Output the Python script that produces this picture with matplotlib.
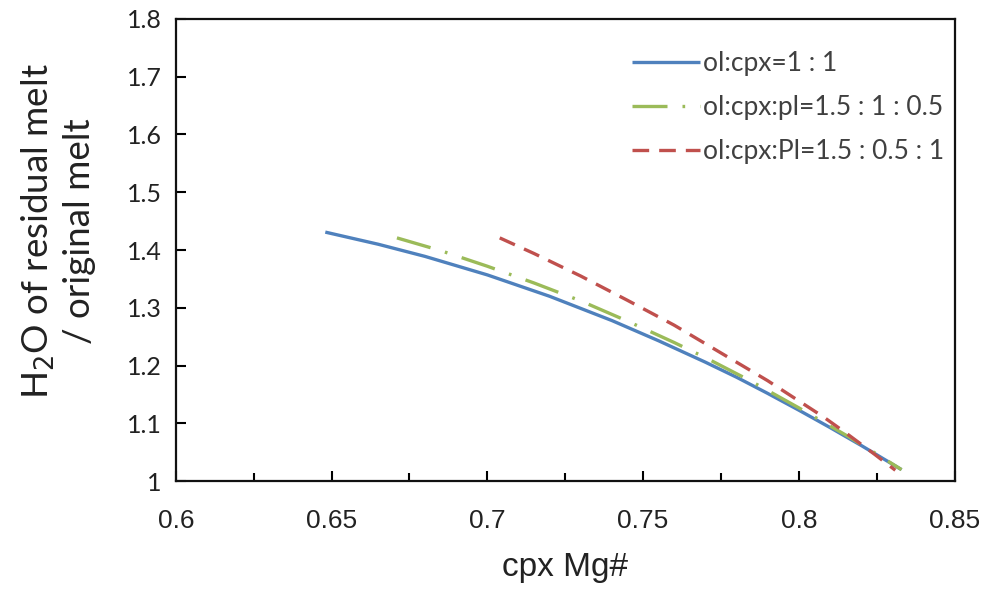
import matplotlib
matplotlib.use("Agg")
import matplotlib.pyplot as plt
from matplotlib.ticker import MultipleLocator, FormatStrFormatter

# Data (cpx Mg#, H2O residual / original)
x_11 = [0.648, 0.665, 0.680, 0.700, 0.720, 0.730, 0.740, 0.755, 0.770, 0.780, 0.790, 0.800, 0.810, 0.820, 0.833]
y_11 = [1.431, 1.410, 1.389, 1.357, 1.320, 1.299, 1.278, 1.243, 1.206, 1.180, 1.152, 1.123, 1.093, 1.062, 1.020]

x_a = [0.671, 0.685, 0.700, 0.715, 0.730, 0.745, 0.760, 0.770, 0.784, 0.800, 0.816, 0.825, 0.833]
y_a = [1.421, 1.399, 1.372, 1.343, 1.312, 1.277, 1.240, 1.214, 1.175, 1.127, 1.077, 1.047, 1.020]

x_b = [0.704, 0.715, 0.730, 0.745, 0.760, 0.770, 0.780, 0.790, 0.800, 0.808, 0.815, 0.824, 0.831]
y_b = [1.421, 1.394, 1.355, 1.313, 1.270, 1.238, 1.206, 1.174, 1.139, 1.111, 1.084, 1.048, 1.019]

labels = ['ol:cpx=1 : 1', 'ol:cpx:pl=1.5 : 1 : 0.5', 'ol:cpx:Pl=1.5 : 0.5 : 1']

narrow = ['Liberation Sans Narrow', 'Liberation Sans', 'DejaVu Sans']
soft = ['Lato', 'DejaVu Sans']

fig = plt.figure(figsize=(9.82, 5.89), dpi=100)
ax = fig.add_axes([0.179, 0.183, 0.793, 0.785])

ax.plot(x_11, y_11, color='#4F81BD', lw=2.4, solid_capstyle='butt', label=labels[0])
ax.plot(x_a, y_a, color='#9BBB59', lw=2.4, dashes=(10.5, 4.5, 0.8, 4.5), label=labels[1])
ax.plot(x_b, y_b, color='#C0504D', lw=2.4, dashes=(5, 3), label=labels[2])

ax.set_xlim(0.6, 0.85)
ax.set_ylim(1.0, 1.8)
ax.xaxis.set_major_locator(MultipleLocator(0.05))
ax.xaxis.set_minor_locator(MultipleLocator(0.025))
ax.yaxis.set_major_locator(MultipleLocator(0.1))
ax.xaxis.set_major_formatter(FormatStrFormatter('%g'))
ax.yaxis.set_major_formatter(FormatStrFormatter('%g'))

ax.tick_params(axis='x', which='major', direction='in', length=7, width=1.5, pad=20)
ax.tick_params(axis='x', which='minor', direction='in', length=6, width=1.5)
ax.tick_params(axis='y', direction='in', length=7, width=1.5, pad=10)
for lab in ax.get_xticklabels():
    lab.set_family(narrow)
    lab.set_fontsize(19)
    lab.set_color('#222222')
for lab in ax.get_yticklabels():
    lab.set_family(soft)
    lab.set_fontsize(18)
    lab.set_color('#222222')

for sp in ax.spines.values():
    sp.set_linewidth(1.6)
    sp.set_color('#111111')

ax.set_xlabel('cpx Mg#', family=narrow, fontsize=24, color='#222222', labelpad=14)
ax.set_ylabel('H$_2$O of residual melt\n/ original melt', family=soft, fontsize=26.5,
              color='#222222', linespacing=1.25)
ax.yaxis.set_label_coords(-0.102, 0.54)

leg = ax.legend(loc='upper right', bbox_to_anchor=(1.017, 0.982), frameon=False,
                prop={'family': soft, 'size': 19}, handlelength=2.6,
                handletextpad=0.1, labelspacing=0.72)
for t in leg.get_texts():
    t.set_color('#404040')

fig.savefig('out.png', dpi=100)
